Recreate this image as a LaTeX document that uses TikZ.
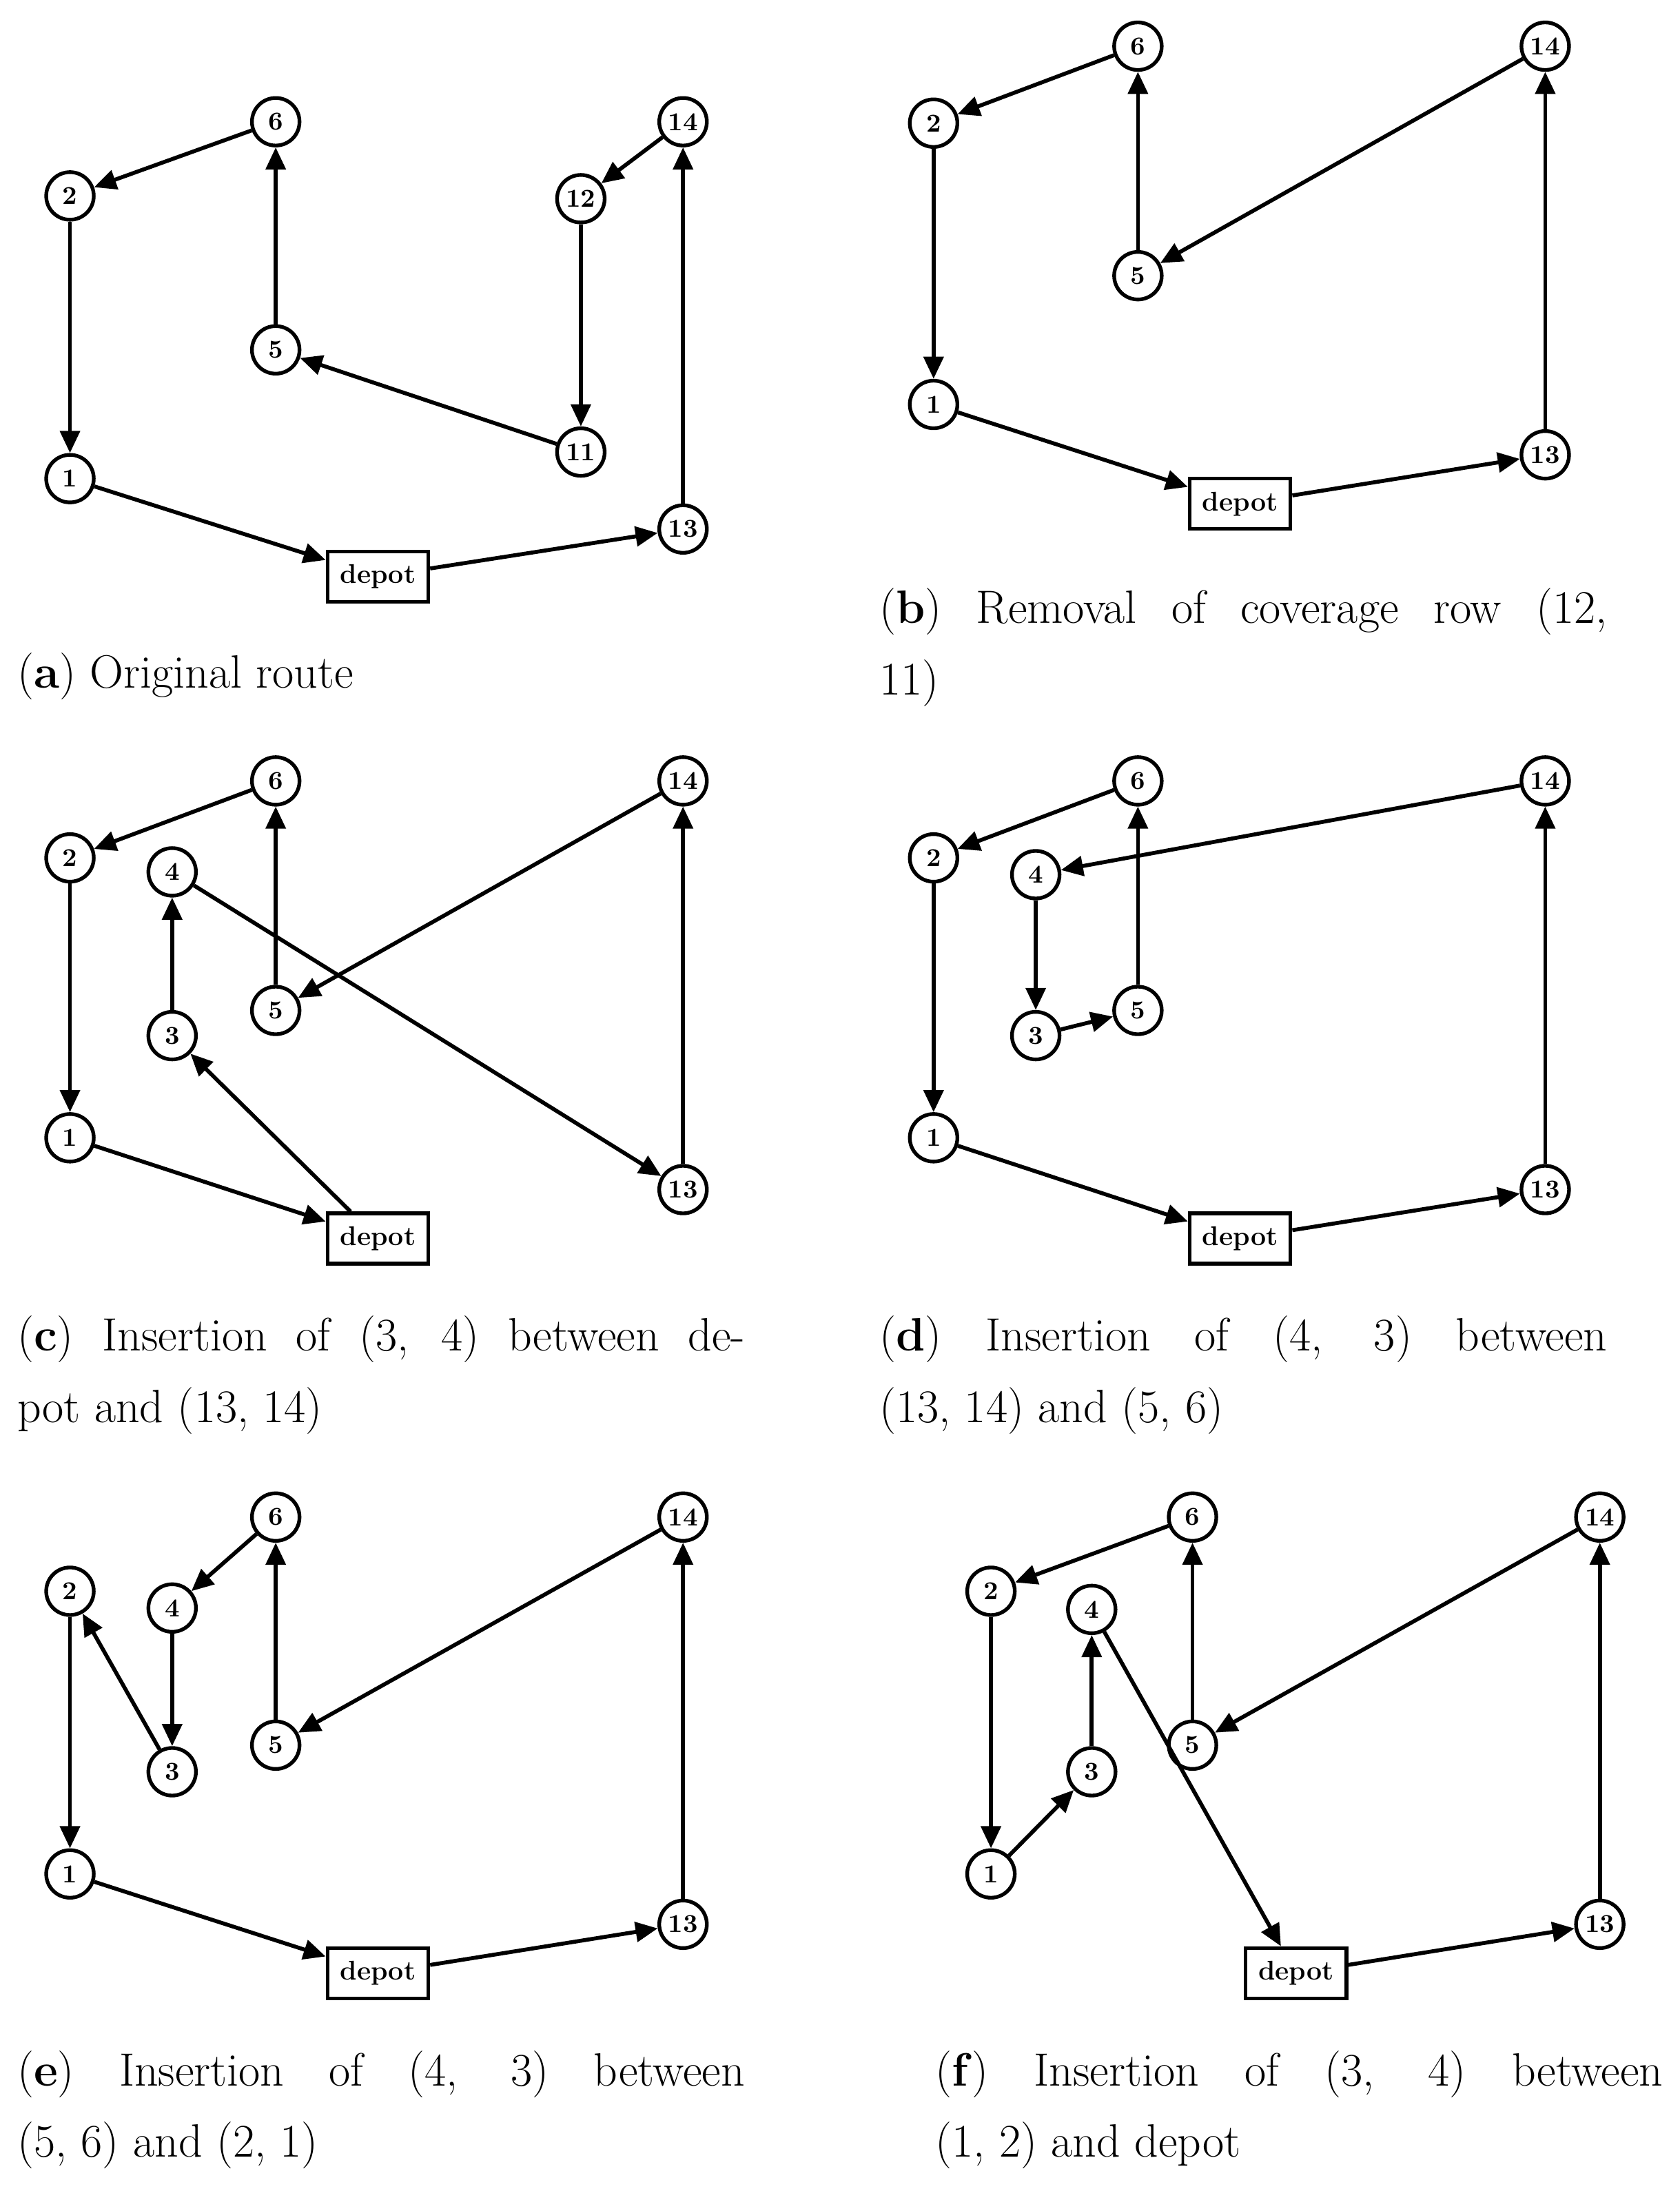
\documentclass[tikz,border=0pt]{standalone}
\usetikzlibrary{arrows.meta}
\begin{document}
\begin{tikzpicture}[x=0.02cm,y=-0.02cm,
 v/.style={circle,draw,line width=1.5pt,minimum size=0.68cm,inner sep=0pt,font=\fontsize{10.5}{10.5}\selectfont\bfseries},
 d/.style={rectangle,draw,line width=1.5pt,minimum width=1.44cm,minimum height=0.72cm,inner sep=0pt,font=\fontsize{11}{11}\selectfont\bfseries},
 e/.style={-{Triangle[length=9pt,width=8pt]},line width=1.6pt},
 captxt/.style={anchor=north west,text width=10.4cm,align=justify,inner sep=0pt,font=\fontsize{19}{29}\selectfont}]
\useasboundingbox (0,0) rectangle (1200,1572);
% (a)
\node[v] (a6) at (197,87) {6}; \node[v] (a2) at (50,140) {2}; \node[v] (a5) at (197,250) {5};
\node[v] (a1) at (50,342) {1}; \node[d] (ad) at (270,412) {depot}; \node[v] (a14) at (488,87) {14};
\node[v] (a12) at (415,142) {12}; \node[v] (a11) at (415,323) {11}; \node[v] (a13) at (488,378) {13};
\foreach \s/\t in {a6/a2,a2/a1,a1/ad,ad/a13,a13/a14,a14/a12,a12/a11,a11/a5,a5/a6} \draw[e] (\s)--(\t);
\node[captxt] (ca) at (12,466) {(\textbf{a}) Original route};
% (b)
\node[v] (b6) at (813,33) {6}; \node[v] (b2) at (667,88) {2}; \node[v] (b5) at (813,197) {5};
\node[v] (b1) at (667,289) {1}; \node[d] (bd) at (886,360) {depot}; \node[v] (b14) at (1104,33) {14};
\node[v] (b13) at (1104,325) {13};
\foreach \s/\t in {b6/b2,b2/b1,b1/bd,bd/b13,b13/b14,b14/b5,b5/b6} \draw[e] (\s)--(\t);
\node[captxt] (cb) at (628,420) {(\textbf{b}) Removal of coverage row (12,\linebreak 11)};
% (c)
\node[v] (c6) at (197,558) {6}; \node[v] (c2) at (50,613) {2}; \node[v] (c4) at (123,623) {4};
\node[v] (c3) at (123,740) {3}; \node[v] (c5) at (197,722) {5}; \node[v] (c1) at (50,813) {1};
\node[d] (cd) at (270,885) {depot}; \node[v] (c14) at (488,558) {14}; \node[v] (c13) at (488,850) {13};
\foreach \s/\t in {c6/c2,c2/c1,c1/cd,cd/c3,c3/c4,c4/c13,c13/c14,c14/c5,c5/c6} \draw[e] (\s)--(\t);
\node[captxt] (cc) at (12,940) {(\textbf{c}) Insertion of (3, 4) between de-\linebreak pot and (13, 14)};
% (d)
\node[v] (d6) at (813,558) {6}; \node[v] (d2) at (667,613) {2}; \node[v] (d4) at (740,625) {4};
\node[v] (d3) at (740,740) {3}; \node[v] (d5) at (813,722) {5}; \node[v] (d1) at (667,813) {1};
\node[d] (dd) at (886,885) {depot}; \node[v] (d14) at (1104,558) {14}; \node[v] (d13) at (1104,850) {13};
\foreach \s/\t in {d6/d2,d2/d1,d1/dd,dd/d13,d13/d14,d14/d4,d4/d3,d3/d5,d5/d6} \draw[e] (\s)--(\t);
\node[captxt] (cd2) at (628,940) {(\textbf{d}) Insertion of (4, 3) between\linebreak (13, 14) and (5, 6)};
% (e)
\node[v] (e6) at (197,1084) {6}; \node[v] (e2) at (50,1137) {2}; \node[v] (e4) at (123,1149) {4};
\node[v] (e3) at (123,1266) {3}; \node[v] (e5) at (197,1247) {5}; \node[v] (e1) at (50,1339) {1};
\node[d] (ed) at (270,1410) {depot}; \node[v] (e14) at (488,1084) {14}; \node[v] (e13) at (488,1375) {13};
\foreach \s/\t in {e6/e4,e4/e3,e3/e2,e2/e1,e1/ed,ed/e13,e13/e14,e14/e5,e5/e6} \draw[e] (\s)--(\t);
\node[captxt] (ce) at (12,1465) {(\textbf{e}) Insertion of (4, 3) between\linebreak (5, 6) and (2, 1)};
% (f)
\node[v] (f6) at (852,1084) {6}; \node[v] (f2) at (708,1137) {2}; \node[v] (f4) at (780,1150) {4};
\node[v] (f3) at (780,1266) {3}; \node[v] (f5) at (852,1247) {5}; \node[v] (f1) at (708,1339) {1};
\node[d] (fd) at (926,1410) {depot}; \node[v] (f14) at (1143,1084) {14}; \node[v] (f13) at (1143,1375) {13};
\foreach \s/\t in {f6/f2,f2/f1,f1/f3,f3/f4,f4/fd,fd/f13,f13/f14,f14/f5,f5/f6} \draw[e] (\s)--(\t);
\node[captxt] (cf) at (668,1465) {(\textbf{f}) Insertion of (3, 4) between\linebreak (1, 2) and depot};
\end{tikzpicture}
\end{document}
